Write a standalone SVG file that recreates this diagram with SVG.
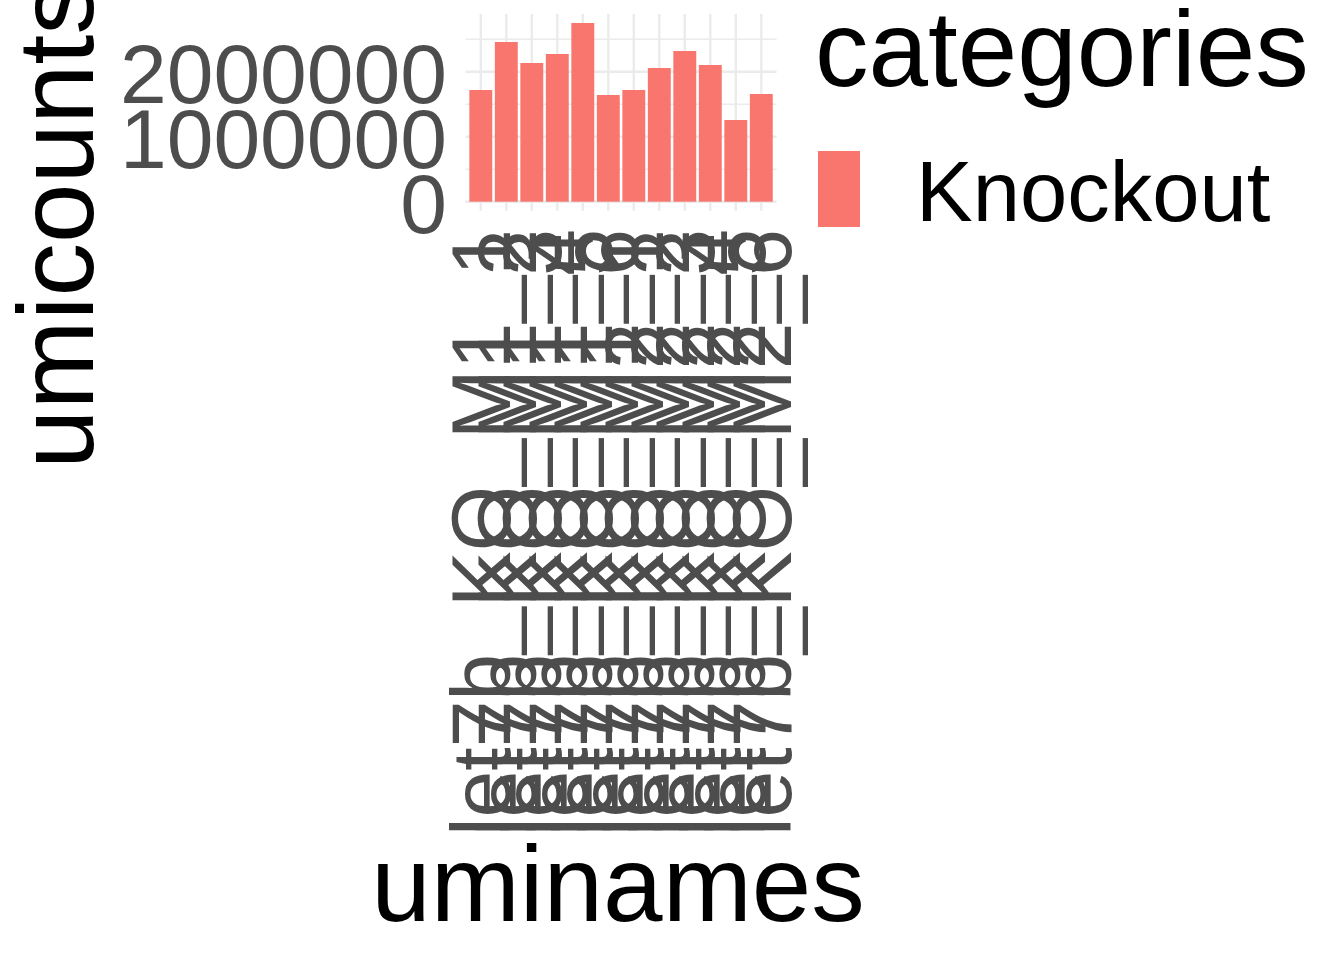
<svg xmlns="http://www.w3.org/2000/svg" width="1344" height="960" viewBox="0 0 1344 960">
<style>
text{font-family:"Liberation Sans",Arial,sans-serif}
.tick{font-size:84px;fill:#4D4D4D}
.title{font-size:107px;fill:#000}
.leg{font-size:85px;fill:#000}
.gmaj{stroke:#EBEBEB;stroke-width:2.4;fill:none}
.gmin{stroke:#EBEBEB;stroke-width:1.4;fill:none}
.bar{fill:#F8766D}
</style>
<rect x="0" y="0" width="1344" height="960" fill="#FFFFFF"/>
<g id="grid">
<line class="gmin" x1="465.5" y1="39.3" x2="776.6" y2="39.3"/>
<line class="gmin" x1="465.5" y1="104.2" x2="776.6" y2="104.2"/>
<line class="gmin" x1="465.5" y1="169.2" x2="776.6" y2="169.2"/>
<line class="gmaj" x1="465.5" y1="71.7" x2="776.6" y2="71.7"/>
<line class="gmaj" x1="465.5" y1="136.7" x2="776.6" y2="136.7"/>
<line class="gmaj" x1="465.5" y1="201.7" x2="776.6" y2="201.7"/>
<line class="gmaj" x1="480.8" y1="14" x2="480.8" y2="210.7"/>
<line class="gmaj" x1="506.3" y1="14" x2="506.3" y2="210.7"/>
<line class="gmaj" x1="531.8" y1="14" x2="531.8" y2="210.7"/>
<line class="gmaj" x1="557.3" y1="14" x2="557.3" y2="210.7"/>
<line class="gmaj" x1="582.8" y1="14" x2="582.8" y2="210.7"/>
<line class="gmaj" x1="608.3" y1="14" x2="608.3" y2="210.7"/>
<line class="gmaj" x1="633.8" y1="14" x2="633.8" y2="210.7"/>
<line class="gmaj" x1="659.3" y1="14" x2="659.3" y2="210.7"/>
<line class="gmaj" x1="684.8" y1="14" x2="684.8" y2="210.7"/>
<line class="gmaj" x1="710.3" y1="14" x2="710.3" y2="210.7"/>
<line class="gmaj" x1="735.8" y1="14" x2="735.8" y2="210.7"/>
<line class="gmaj" x1="761.3" y1="14" x2="761.3" y2="210.7"/>
</g>
<g id="bars">
<rect class="bar" x="469.35" y="90" width="22.9" height="111.7"/>
<rect class="bar" x="494.85" y="42" width="22.9" height="159.7"/>
<rect class="bar" x="520.35" y="63" width="22.9" height="138.7"/>
<rect class="bar" x="545.85" y="54" width="22.9" height="147.7"/>
<rect class="bar" x="571.35" y="23" width="22.9" height="178.7"/>
<rect class="bar" x="596.85" y="95" width="22.9" height="106.7"/>
<rect class="bar" x="622.35" y="90" width="22.9" height="111.7"/>
<rect class="bar" x="647.85" y="68" width="22.9" height="133.7"/>
<rect class="bar" x="673.35" y="51" width="22.9" height="150.7"/>
<rect class="bar" x="698.85" y="65" width="22.9" height="136.7"/>
<rect class="bar" x="724.35" y="120" width="22.9" height="81.7"/>
<rect class="bar" x="749.85" y="94" width="22.9" height="107.7"/>
</g>
<g id="y-axis">
<text class="tick" x="447" y="232.7" text-anchor="end">0</text>
<text class="tick" x="447" y="167.7" text-anchor="end">1000000</text>
<text class="tick" x="447" y="102.7" text-anchor="end">2000000</text>
<text class="title" transform="translate(93,469) rotate(-90)">umicounts</text>
</g>
<g id="x-axis">
<text class="tick" text-anchor="end" transform="translate(510.3,229) rotate(-90)">let7b_KO_M1_1</text>
<text class="tick" text-anchor="end" transform="translate(535.8,229) rotate(-90)">let7b_KO_M1_2</text>
<text class="tick" text-anchor="end" transform="translate(561.3,229) rotate(-90)">let7b_KO_M1_3</text>
<text class="tick" text-anchor="end" transform="translate(586.8,229) rotate(-90)">let7b_KO_M1_4</text>
<text class="tick" text-anchor="end" transform="translate(612.3,229) rotate(-90)">let7b_KO_M1_5</text>
<text class="tick" text-anchor="end" transform="translate(637.8,229) rotate(-90)">let7b_KO_M1_6</text>
<text class="tick" text-anchor="end" transform="translate(663.3,229) rotate(-90)">let7b_KO_M2_1</text>
<text class="tick" text-anchor="end" transform="translate(688.8,229) rotate(-90)">let7b_KO_M2_2</text>
<text class="tick" text-anchor="end" transform="translate(714.3,229) rotate(-90)">let7b_KO_M2_3</text>
<text class="tick" text-anchor="end" transform="translate(739.8,229) rotate(-90)">let7b_KO_M2_4</text>
<text class="tick" text-anchor="end" transform="translate(765.3,229) rotate(-90)">let7b_KO_M2_5</text>
<text class="tick" text-anchor="end" transform="translate(790.8,229) rotate(-90)">let7b_KO_M2_6</text>
<text class="title" x="618" y="921" text-anchor="middle">uminames</text>
</g>
<g id="legend">
<text class="title" x="815" y="86">categories</text>
<rect x="818" y="151" width="42" height="76" fill="#F8766D"/>
<text class="leg" x="916" y="220.5">Knockout</text>
</g>
</svg>
